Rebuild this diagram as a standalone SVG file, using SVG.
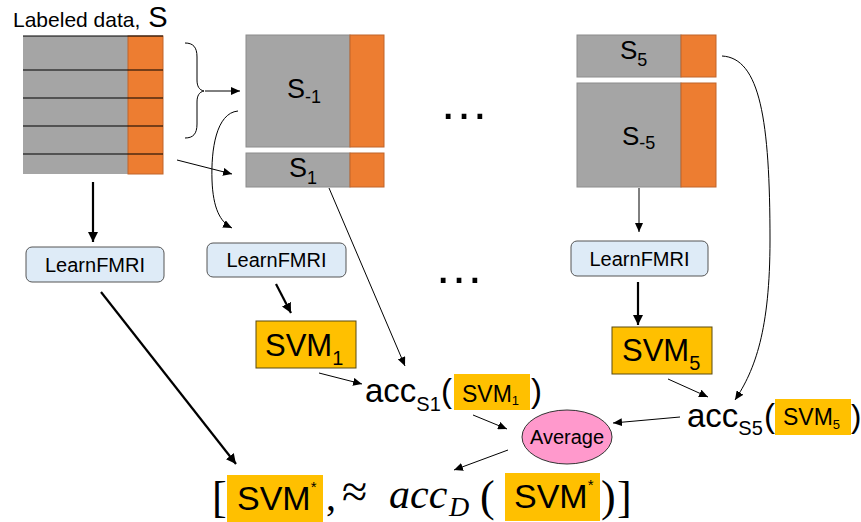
<svg xmlns="http://www.w3.org/2000/svg" width="861" height="522" viewBox="0 0 861 522">
<style>
text{font-family:"Liberation Sans",Arial,sans-serif;fill:#000}
.m{font-family:"Liberation Serif","Times New Roman",serif}
.g{fill:#A5A5A5;stroke:#8C8C8C;stroke-width:1}
.o{fill:#ED7D31;stroke:#C0652A;stroke-width:1}
.lf{fill:#DEEBF7;stroke:#555;stroke-width:1}
.svm{fill:#FFC000;stroke:#5a4a10;stroke-width:1}
.hl{fill:#FFC000}
.c{fill:none;stroke:#000;stroke-width:1}
.cb{fill:none;stroke:#000;stroke-width:2.2}
</style>
<defs>
<marker id="ah" markerUnits="userSpaceOnUse" markerWidth="10" markerHeight="8" refX="9" refY="4" orient="auto"><path d="M0,0 L9,4 L0,8 z" fill="#000"/></marker>
<marker id="ahb" markerUnits="userSpaceOnUse" markerWidth="11" markerHeight="10" refX="10" refY="5" orient="auto"><path d="M0,0 L10,5 L0,10 z" fill="#000"/></marker>
</defs>
<rect width="861" height="522" fill="#fff"/>

<g id="title"><text x="13" y="27" font-size="21">Labeled data,<tspan font-size="29"> S</tspan></text></g>

<g id="dataS">
<rect x="23" y="36" width="105" height="138" fill="#A5A5A5"/>
<rect x="128" y="36" width="35" height="138" class="o"/>
<path d="M23,36H163M23,70H163M23,98H163M23,126H163M23,154H163" stroke="#000" stroke-width="1.2"/>
</g>

<g id="brace"><path d="M185,43 C193,43 197,47 197,57 L197,80 C197,86 199,90 204,91 C199,92 197,96 197,102 L197,124 C197,134 193,138 185,138" fill="none" stroke="#000" stroke-width="1"/></g>

<g id="S-1">
<rect x="246" y="35" width="104" height="112" class="g"/>
<rect x="350" y="35" width="34" height="112" class="o"/>
<text x="287" y="98" font-size="27">S<tspan font-size="18" dy="5">-1</tspan></text>
</g>
<g id="S1">
<rect x="246" y="153" width="104" height="34" class="g"/>
<rect x="350" y="153" width="34" height="34" class="o"/>
<text x="289" y="177" font-size="27">S<tspan font-size="18" dy="7">1</tspan></text>
</g>
<g id="S5">
<rect x="577" y="35" width="104" height="42" class="g"/>
<rect x="681" y="35" width="35" height="42" class="o"/>
<text x="620" y="59" font-size="26">S<tspan font-size="18" dy="7">5</tspan></text>
</g>
<g id="S-5">
<rect x="577" y="83" width="104" height="104" class="g"/>
<rect x="681" y="83" width="35" height="104" class="o"/>
<text x="622" y="145" font-size="26">S<tspan font-size="18" dy="4">-5</tspan></text>
</g>

<g id="dots1"><text x="464" y="119" font-size="50" text-anchor="middle">…</text></g>
<g id="dots2"><text x="459" y="283" font-size="50" text-anchor="middle">…</text></g>

<g id="learn1"><rect x="26" y="247" width="138" height="35" rx="6" class="lf"/><text x="95" y="272" font-size="20" text-anchor="middle">LearnFMRI</text></g>
<g id="learn2"><rect x="207" y="243" width="139" height="34" rx="6" class="lf"/><text x="276.5" y="267" font-size="20" text-anchor="middle">LearnFMRI</text></g>
<g id="learn3"><rect x="571" y="241" width="137" height="35" rx="6" class="lf"/><text x="639.5" y="266" font-size="20" text-anchor="middle">LearnFMRI</text></g>

<g id="svm1"><rect x="256" y="321" width="100" height="47" class="svm"/><text x="265" y="356" font-size="31">SVM<tspan font-size="20" dy="9">1</tspan></text></g>
<g id="svm5"><rect x="612" y="327" width="100" height="47" class="svm"/><text x="622" y="361" font-size="31">SVM<tspan font-size="20" dy="9">5</tspan></text></g>

<g id="accS1">
<text x="365" y="402" font-size="33">acc<tspan font-size="20" dy="9">S1</tspan></text>
<text x="441" y="402" font-size="33">(</text>
<rect x="454" y="374" width="76" height="36" class="hl"/>
<text x="462" y="402" font-size="23">SVM<tspan font-size="13" dy="3">1</tspan></text>
<text x="531" y="402" font-size="33">)</text>
</g>
<g id="accS5">
<text x="687" y="427" font-size="33">acc<tspan font-size="20" dy="8">S5</tspan></text>
<text x="764" y="427" font-size="33">(</text>
<rect x="775" y="399" width="76" height="36" class="hl"/>
<text x="783" y="425" font-size="23">SVM<tspan font-size="13" dy="4">5</tspan></text>
<text x="851" y="427" font-size="31">)</text>
</g>

<g id="average"><ellipse cx="567" cy="437" rx="45" ry="27" fill="#FF99CC" stroke="#333" stroke-width="1"/><text x="567" y="444" font-size="20" text-anchor="middle">Average</text></g>

<g id="result">
<text x="212" y="512" font-size="44" class="m">[</text>
<rect x="227" y="475" width="96" height="47" class="hl"/>
<text x="237" y="510" font-size="34">SVM<tspan font-size="15" dy="-18">*</tspan></text>
<text x="326" y="510" font-size="40" class="m">,</text>
<text x="342" y="507" font-size="46" class="m">≈</text>
<text x="389" y="508" font-size="42" class="m" font-style="italic">acc</text>
<text x="449" y="516" font-size="28" class="m" font-style="italic">D</text>
<text x="480" y="511" font-size="44" class="m">(</text>
<rect x="505" y="473" width="95" height="48" class="hl"/>
<text x="514" y="508" font-size="34">SVM<tspan font-size="15" dy="-18">*</tspan></text>
<text x="601" y="511" font-size="44" class="m">)</text>
<text x="617" y="512" font-size="44" class="m">]</text>
</g>

<g id="connectors">
<line x1="205" y1="91" x2="240" y2="91" class="c" marker-end="url(#ah)"/>
<line x1="177" y1="160" x2="232" y2="174" class="c" marker-end="url(#ah)"/>
<path d="M238,111 C216,113 211,150 212,180 C213,208 220,222 232,228" class="c" marker-end="url(#ah)"/>
<line x1="93" y1="182" x2="93" y2="242" class="cb" marker-end="url(#ahb)"/>
<line x1="276" y1="284" x2="291" y2="313" class="cb" marker-end="url(#ahb)"/>
<line x1="101" y1="292" x2="236" y2="464" class="cb" marker-end="url(#ahb)"/>
<line x1="329" y1="188" x2="405" y2="366" class="c" marker-end="url(#ah)"/>
<line x1="319" y1="373" x2="362" y2="384" class="c" marker-end="url(#ah)"/>
<line x1="639" y1="188" x2="639" y2="232" class="c" marker-end="url(#ah)"/>
<line x1="638" y1="282" x2="638" y2="325" class="cb" marker-end="url(#ahb)"/>
<line x1="668" y1="379" x2="708" y2="397" class="c" marker-end="url(#ah)"/>
<path d="M722,56 C760,58 770,120 770,240 C770,330 755,370 735,400" class="c" marker-end="url(#ah)"/>
<line x1="473" y1="415" x2="507" y2="429" class="c" marker-end="url(#ah)"/>
<line x1="680" y1="417" x2="613" y2="423" class="c" marker-end="url(#ah)"/>
<line x1="508" y1="450" x2="454" y2="470" class="c" marker-end="url(#ah)"/>
</g>
</svg>
